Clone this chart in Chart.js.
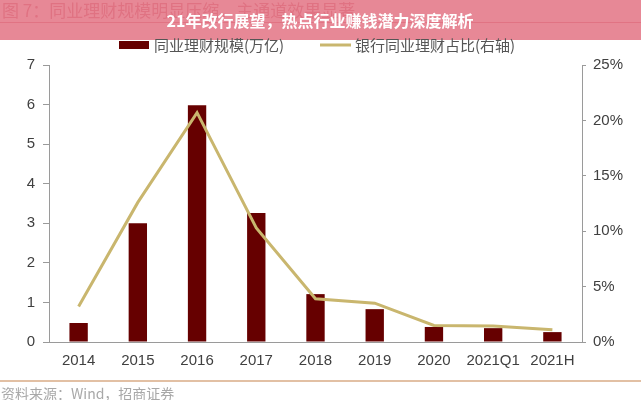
<!DOCTYPE html>
<html>
<head>
<meta charset="utf-8">
<script src="https://cdn.jsdelivr.net/npm/chart.js@4.4.0/dist/chart.umd.min.js"></script>
<style>
  html, body { margin: 0; padding: 0; background: #fff; }
  #wrap { width: 641px; height: 400px; position: relative; }
</style>
</head>
<body>
<div id="wrap"><canvas id="chart"></canvas></div>
<script>
// data
const periods = ['2014', '2015', '2016', '2017', '2018', '2019', '2020', '2021Q1', '2021H'];
const scaleValues = [0.48, 3.0, 5.98, 3.26, 1.21, 0.83, 0.38, 0.35, 0.25];   // 万亿
const shareValues = [3.2, 12.6, 20.7, 10.3, 3.9, 3.5, 1.5, 1.45, 1.1];      // %
const leftTicks = [0, 1, 2, 3, 4, 5, 6, 7];
const rightTicks = [0, 5, 10, 15, 20, 25];

const barColor = '#660000';
const lineColor = '#c9b66e';
const cjk = '"Noto Sans CJK SC", sans-serif';
const latin = '"Liberation Sans", Arial, sans-serif';

// header band, custom legend and source line
const decor = {
    id: 'decor',
    afterDraw(chart) {
        const ctx = chart.ctx;
        ctx.save();

        // faded original figure caption under the band
        ctx.fillStyle = '#c24a5c';
        ctx.font = '17px ' + cjk;
        ctx.textBaseline = 'middle';
        ctx.textAlign = 'left';
        ctx.fillText('图 7：同业理财规模明显压缩，主通道效果显著', 2, 11);
        ctx.strokeStyle = '#c85566';
        ctx.lineWidth = 1;
        ctx.beginPath();
        ctx.moveTo(0, 22.5);
        ctx.lineTo(641, 22.5);
        ctx.stroke();

        ctx.fillStyle = 'rgba(228, 120, 136, 0.88)';
        ctx.fillRect(0, 0, 641, 40);

        ctx.fillStyle = '#ffffff';
        ctx.font = 'bold 16px ' + cjk;
        ctx.textAlign = 'center';
        ctx.fillText('21年改行展望，热点行业赚钱潜力深度解析', 320, 21);

        // legend
        ctx.fillStyle = barColor;
        ctx.fillRect(119, 41, 30, 8);
        ctx.fillStyle = '#555';
        ctx.font = '15px ' + cjk;
        ctx.textAlign = 'left';
        ctx.fillText(chart.data.datasets[1].label, 154, 45);
        ctx.strokeStyle = lineColor;
        ctx.lineWidth = 3;
        ctx.beginPath();
        ctx.moveTo(320, 45);
        ctx.lineTo(351, 45);
        ctx.stroke();
        ctx.fillText(chart.data.datasets[0].label, 355, 45);

        // source footer
        ctx.strokeStyle = '#d8ab86';
        ctx.lineWidth = 1.5;
        ctx.beginPath();
        ctx.moveTo(0, 381);
        ctx.lineTo(641, 381);
        ctx.stroke();
        ctx.fillStyle = '#a8a8a8';
        ctx.font = '14px ' + cjk;
        ctx.fillText('资料来源：Wind，招商证券', 1, 394);

        ctx.restore();
    }
};

const ctx = document.getElementById('chart').getContext('2d');
new Chart(ctx, {
    data: {
        labels: periods,
        datasets: [
            {
                type: 'line',
                label: '银行同业理财占比(右轴)',
                data: shareValues,
                yAxisID: 'y1',
                borderColor: lineColor,
                borderWidth: 3,
                pointRadius: 0,
                tension: 0,
                order: 0
            },
            {
                type: 'bar',
                label: '同业理财规模(万亿)',
                data: scaleValues,
                yAxisID: 'y',
                backgroundColor: barColor,
                barPercentage: 0.31,
                categoryPercentage: 1,
                order: 1
            }
        ]
    },
    options: {
        responsive: true,
        maintainAspectRatio: false,
        animation: false,
        layout: { padding: { top: 65, left: 0, right: 0, bottom: 0 } },
        plugins: {
            legend: { display: false },
            tooltip: { enabled: false }
        },
        scales: {
            x: {
                offset: true,
                grid: { display: false, drawTicks: false },
                border: { display: true, color: '#9a9a9a' },
                ticks: { color: '#404040', font: { family: latin, size: 15 }, padding: 10, maxRotation: 0 },
                afterFit(s) { s.height = 58; }
            },
            y: {
                position: 'left',
                min: 0,
                max: 7,
                afterBuildTicks(s) { s.ticks = leftTicks.map(v => ({ value: v })); },
                grid: { drawOnChartArea: false, drawTicks: true, tickLength: 6, color: '#9a9a9a' },
                border: { display: true, color: '#9a9a9a' },
                ticks: { color: '#404040', font: { family: latin, size: 15 }, padding: 8 },
                afterFit(s) { s.width = 49; }
            },
            y1: {
                position: 'right',
                min: 0,
                max: 25,
                afterBuildTicks(s) { s.ticks = rightTicks.map(v => ({ value: v })); },
                grid: { drawOnChartArea: false, drawTicks: true, tickLength: 4, color: '#9a9a9a' },
                border: { display: true, color: '#9a9a9a' },
                ticks: { color: '#404040', font: { family: latin, size: 15 }, padding: 7, callback: v => v + '%' },
                afterFit(s) { s.width = 59; }
            }
        }
    },
    plugins: [decor]
});
</script>
</body>
</html>
